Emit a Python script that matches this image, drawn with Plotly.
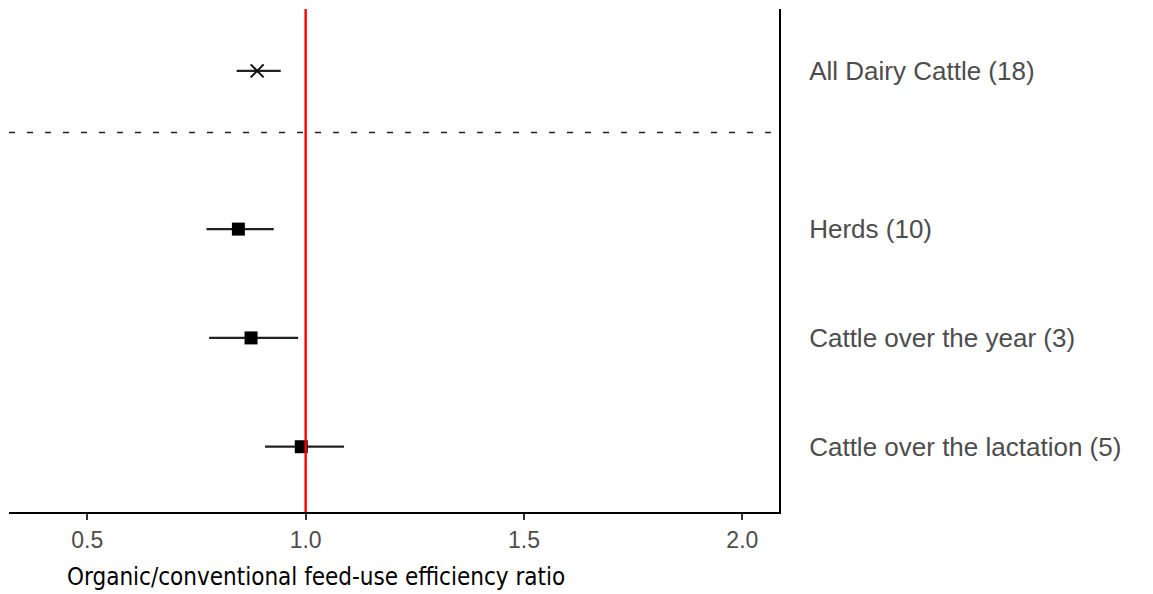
import plotly.graph_objects as go

# Subgroup labels (number of studies in brackets)
labels = [
    "All Dairy Cattle (18)",
    "Herds (10)",
    "Cattle over the year (3)",
    "Cattle over the lactation (5)",
]
# Ratio estimates and their confidence limits
estimate = [0.889, 0.846, 0.875, 0.990]
lower = [0.842, 0.773, 0.779, 0.907]
upper = [0.943, 0.927, 0.983, 1.088]
# Vertical position of each row (the pooled estimate sits apart, above the split)
row_pos = [4.454, 3.0, 2.0, 1.0]
split_pos = 3.888

x_ticks = [0.5, 1.0, 1.5, 2.0]

err_plus = [u - e for u, e in zip(upper, estimate)]
err_minus = [e - l for e, l in zip(estimate, lower)]

fig = go.Figure()

# Pooled estimate: cross marker
fig.add_trace(go.Scatter(
    x=estimate[:1], y=row_pos[:1], mode="markers",
    marker=dict(symbol="x-thin", size=13, line=dict(width=2, color="#111111"), color="#111111"),
    error_x=dict(type="data", symmetric=False, array=err_plus[:1], arrayminus=err_minus[:1],
                 thickness=2.2, width=0, color="#222222"),
    showlegend=False, hoverinfo="skip",
))

# Subgroups: square markers
fig.add_trace(go.Scatter(
    x=estimate[1:], y=row_pos[1:], mode="markers",
    marker=dict(symbol="square", size=13, color="#000000"),
    error_x=dict(type="data", symmetric=False, array=err_plus[1:], arrayminus=err_minus[1:],
                 thickness=2.2, width=0, color="#222222"),
    showlegend=False, hoverinfo="skip",
))

# Reference line at ratio 1 (no difference)
fig.add_shape(type="line", xref="x", yref="paper", x0=1.0, x1=1.0, y0=0, y1=1,
              line=dict(color="#FF0000", width=2.4), layer="above")

# Dashed separator between pooled and subgroup estimates
fig.add_shape(type="line", xref="paper", yref="y", x0=0, x1=1, y0=split_pos, y1=split_pos,
              line=dict(color="#222222", width=1.5, dash="6px,12px"), layer="below")

fig.add_annotation(
    text="Organic/conventional feed-use efficiency ratio",
    xref="paper", yref="paper", x=0.3987, y=-0.129,
    xanchor="center", yanchor="middle", showarrow=False,
    font=dict(family="DejaVu Sans Condensed, DejaVu Sans", size=24, color="#000000"),
)

fig.update_layout(
    width=1153, height=594, autosize=False,
    margin=dict(l=9, r=374, t=9, b=82),
    paper_bgcolor="white", plot_bgcolor="white",
    xaxis=dict(
        range=[0.3207, 2.084], tickvals=x_ticks, tickformat=".1f",
        showgrid=False, zeroline=False,
        showline=True, linecolor="#000000", linewidth=2,
        ticks="outside", ticklen=6, tickwidth=2, tickcolor="#333333",
        tickfont=dict(family="Liberation Sans", size=23, color="#4D4D4D"),
    ),
    yaxis=dict(
        range=[0.400, 5.023], side="right", tickvals=row_pos, ticktext=labels,
        showgrid=False, zeroline=False,
        showline=True, linecolor="#000000", linewidth=2,
        ticks="", ticklabelstandoff=23,
        tickfont=dict(family="Liberation Sans", size=26, color="#4D4D4D"),
    ),
)

fig.write_html("out.html")
